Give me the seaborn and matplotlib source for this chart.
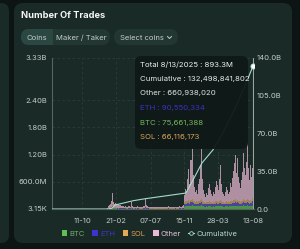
import numpy as np
import pandas as pd
import matplotlib
matplotlib.use("Agg")
import matplotlib.pyplot as plt
import seaborn as sns
from matplotlib.patches import FancyBboxPatch, Patch, Rectangle
from matplotlib.lines import Line2D
import matplotlib.transforms as mtransforms

# ---------------- data ----------------
axis_start = "2023-06-14"
bar_first, bar_last = "2024-01-19", "2025-08-13"   # 4-day bins

btc_m = [2,7,11,14,20,40,18,13,15,12, 11,13,10,11,8,9,7,7,8,6, 5,7,7,18,7,6,5,7,6,7,
         7,6,5,5,6,7,8,27,11,7, 7,6,5,6,5,5,5,4,5,5, 6,5,5,4,5,5,5,6,5,5,
         7,6,5,5,5,5,6,7,5,5, 6,7,7,6,8,11,
         55,60,60,65,70,62,75,80,65,60, 58,60,56,62,65,72,80,62,58,55, 52,56,55,60,62,58,55,52,56,55,
         60,64,62,58,64,72,62,56,55,52, 56,60,58,54,56,62,60,64,68,72, 76,66,74,64,60,58,62,66,78,68,
         64,70,82,68,62,70,64,75.66]
eth_m = [2,6,9,12,18,35,15,11,13,10, 9,11,8,10,7,8,6,6,7,5, 5,6,6,15,6,5,5,6,5,6,
         6,5,5,4,5,6,7,23,9,6, 6,5,5,5,4,5,4,4,5,4, 5,5,4,4,4,5,4,5,5,4,
         6,5,5,4,5,4,5,6,5,4, 5,6,6,5,7,9,
         55,58,58,60,65,58,70,75,60,56, 54,56,52,58,60,66,75,58,54,52, 48,52,50,55,58,54,50,48,52,50,
         56,60,58,54,60,68,58,52,50,48, 52,56,54,50,52,58,56,60,64,68, 72,62,70,60,56,54,58,62,74,64,
         60,66,78,64,58,66,60,90.55]
sol_m = [1,5,7,10,14,28,12,9,10,8, 7,9,6,8,6,6,5,4,5,4, 4,5,4,12,5,4,4,4,4,5,
         4,4,4,3,4,5,6,18,7,5, 4,4,4,4,3,4,3,3,4,3, 4,4,3,3,3,4,3,4,4,3,
         5,4,4,3,4,3,4,4,4,3, 4,5,4,4,6,7,
         40,52,52,55,60,50,64,70,55,50, 48,50,46,50,55,62,70,52,48,45, 42,46,45,50,52,48,45,42,46,45,
         50,54,52,48,54,60,52,46,45,42, 46,50,48,44,46,52,50,54,58,62, 66,56,64,56,52,50,54,58,66,58,
         54,60,70,58,52,60,56,66.12]
other_m = [15,42,63,84,128,247,105,77,92,70, 63,77,56,66,49,52,42,38,45,35, 31,42,38,105,42,35,31,38,35,42,
           38,35,31,28,35,42,49,162,63,42, 38,35,31,35,28,31,28,24,31,28, 35,31,28,24,28,31,28,35,31,28,
           42,35,31,28,31,28,35,38,31,28, 35,42,38,35,49,63,
           150,280,230,480,680,380,880,1120,580,310, 210,250,170,380,480,780,1130,480,250,170,
           120,200,160,290,380,260,170,140,220,170, 310,430,350,250,480,780,390,220,170,140,
           210,310,260,180,230,410,310,510,650,810, 970,610,920,530,410,310,470,630,1020,710,
           570,830,1220,710,470,780,530,660.94]

cum_dates = ["2023-06-14","2024-01-20","2024-02-04","2024-02-17","2024-04-29","2024-06-14",
             "2024-11-22","2024-12-20","2025-01-24","2025-03-08","2025-04-20","2025-06-01",
             "2025-07-24","2025-08-13"]
cum_b = [0, 0, 0.65, 3.7, 7.7, 9.5, 14.8, 26.9, 42.6, 54.7, 72, 92, 120.8, 132.5]

xtick_dates = ["2023-10-11","2024-02-21","2024-07-07","2024-11-15","2025-03-28","2025-08-13"]
xtick_labels = ["11-10","21-02","07-07","15-11","28-03","13-08"]
ly_ticks = [3150, 0.6e9, 1.2e9, 1.8e9, 2.4e9, 3.33e9]
ly_labels = ["3.15K","600.0M","1.20B","1.80B","2.40B","3.33B"]
ry_ticks = [0, 35e9, 70e9, 105e9, 140e9]
ry_labels = ["0.0","35.0B","70.0B","105.0B","140.0B"]

tooltip_lines = [("Total 8/13/2025 : 893.3M", "#eef1f0"),
                 ("Cumulative : 132,498,841,802", "#e6ebe9"),
                 ("Other : 660,938,020", "#dfe3e1"),
                 ("ETH : 90,550,334", "#3a33c4"),
                 ("BTC : 75,661,388", "#74b85e"),
                 ("SOL : 66,116,173", "#d9a35a")]

# ---------------- styling ----------------
W, H = 300, 249
BG = "#0c1513"
CARD = "#1a2a27"
PILL = "#223632"
PILL_ON = "#2b4741"
GRID = "#2c3e3a"
TXT = "#c3cdc9"
COL = {"BTC": "#5fbf55", "ETH": "#5a4fc8", "SOL": "#d8a66a", "Other": "#e9b9d3"}
CUM = "#a7dccd"
FS = 5.5

plt.rcParams["font.family"] = ["Inter", "DejaVu Sans"]

fig = plt.figure(figsize=(W / 100, H / 100), dpi=100)
fig.patch.set_facecolor(BG)
ID = mtransforms.IdentityTransform()


def rbox(x0, y0, x1, y1, r, color, z=-5, alpha=1.0):
    p = FancyBboxPatch((x0, H - y1), x1 - x0, y1 - y0,
                       boxstyle=f"round,pad=0,rounding_size={r}",
                       transform=ID, facecolor=color, edgecolor="none",
                       zorder=z, alpha=alpha)
    fig.add_artist(p)


def ftext(x, y, s, **kw):
    fig.text(x / W, 1 - y / H, s, **kw)


# cards
rbox(-20, 3, 9, 243, 8, CARD)
rbox(14, 3, 292, 243, 9, CARD)

ftext(21, 16, "Number Of Trades", color="#f4f6f5", fontsize=6.7, fontweight="bold", va="center")

# buttons
rbox(21, 29, 110, 45, 8, PILL, z=-4)
rbox(21, 29, 53, 45, 8, PILL_ON, z=-3)
fig.add_artist(Rectangle((42, H - 45), 11, 16, transform=ID, facecolor=PILL_ON,
                         edgecolor="none", zorder=-3))
rbox(114, 29, 178, 45, 8, PILL, z=-4)
ftext(37, 37.5, "Coins", color=TXT, fontsize=5.5, ha="center", va="center")
ftext(81.5, 37.5, "Maker / Taker", color=TXT, fontsize=5.5, ha="center", va="center")
ftext(120, 37.5, "Select coins", color=TXT, fontsize=5.5, ha="left", va="center")
fig.add_artist(Line2D([167.5, 169.5, 171.5], [H - 36.5, H - 38.5, H - 36.5], transform=ID,
                      color=TXT, lw=0.7, zorder=2))

# ---------------- axes ----------------
t0 = pd.Timestamp(axis_start)
bar_dates = pd.date_range(bar_first, bar_last, freq="4D")
bar_day = np.array((bar_dates - t0).days, dtype=float)

rows = []
for coin, arr in [("BTC", btc_m), ("ETH", eth_m), ("SOL", sol_m), ("Other", other_m)]:
    for d, v in zip(bar_day, arr):
        rows.append({"day": d, "coin": coin, "value": v * 1e6})
df = pd.DataFrame(rows)

ax = fig.add_axes([52 / W, 1 - 209 / H, (253.5 - 52) / W, 151 / H])
ax.set_facecolor("none")
sns.histplot(data=df, x="day", weights="value", hue="coin",
             hue_order=["Other", "SOL", "ETH", "BTC"], multiple="stack",
             binwidth=4, binrange=(bar_day[0] - 2, bar_day[-1] + 2),
             palette=COL, alpha=0.72, linewidth=0, edgecolor="none",
             legend=False, ax=ax, zorder=2)

day_max = (pd.Timestamp(bar_last) - t0).days
ax.set_xlim(0, day_max + 2)
ax.set_ylim(0, 3.33e9)
ax.set_yticks(ly_ticks)
ax.set_yticklabels(ly_labels)
xt = [(pd.Timestamp(d) - t0).days for d in xtick_dates]
ax.set_xticks(xt)
ax.set_xticklabels(xtick_labels)
ax.set_xlabel("")
ax.set_ylabel("")
ax.tick_params(axis="both", length=0, labelsize=FS, colors=TXT)
ax.tick_params(axis="y", pad=3.4)
ax.tick_params(axis="x", pad=6.5)
ax.set_axisbelow(True)
ax.grid(True, color=GRID, linestyle=(0, (3, 3)), linewidth=0.6)
for s in ["top", "right"]:
    ax.spines[s].set_visible(False)
ax.spines["left"].set_color("#56635f")
ax.spines["left"].set_linewidth(0.8)
ax.spines["bottom"].set_color("#56635f")
ax.spines["bottom"].set_linewidth(0.8)

ax2 = ax.twinx()
cum_day = [(pd.Timestamp(d) - t0).days for d in cum_dates]
cum_val = [v * 1e9 for v in cum_b]
sns.lineplot(x=cum_day, y=cum_val, ax=ax2, color=CUM, linewidth=0.8, zorder=3)
ax2.axvline(day_max, color="#9aa6a2", linewidth=0.8, zorder=1)
sns.scatterplot(x=[cum_day[-1]], y=[cum_val[-1]], ax=ax2, s=14, color="white",
                edgecolor=CUM, linewidth=0.6, zorder=5, legend=False)
ax2.set_ylim(0, 140e9)
ax2.set_xlim(0, day_max + 2)
ax2.set_yticks(ry_ticks)
ax2.set_yticklabels(ry_labels)
ax2.set_ylabel("")
ax2.tick_params(axis="y", length=0, labelsize=FS, colors=TXT, pad=2.5)
for s in ["top", "right", "left", "bottom"]:
    ax2.spines[s].set_visible(False)

# ---------------- tooltip ----------------
rbox(135, 56, 248, 149, 6, "#0f1917", z=10, alpha=0.95)
ty = [65, 78.5, 93, 107.5, 122.5, 136.5]
for (s, c), y in zip(tooltip_lines, ty):
    ftext(139.5, y, s, color=c, fontsize=5.6, va="center", zorder=11)

# ---------------- legend ----------------
handles = [Patch(facecolor=COL[k], edgecolor="none") for k in ["BTC", "ETH", "SOL", "Other"]]
handles[1] = Patch(facecolor="#3d33d2", edgecolor="none")
handles[2] = Patch(facecolor="#e2aa55", edgecolor="none")
handles.append(Line2D([], [], color=CUM, lw=0.8, marker="o", markersize=2.6,
                      markerfacecolor=CARD, markeredgecolor=CUM, markeredgewidth=0.6))
leg = fig.legend(handles, ["BTC", "ETH", "SOL", "Other", "Cumulative"], ncol=5,
                 loc="center", bbox_to_anchor=(149.5 / W, 1 - 233.5 / H), frameon=False,
                 fontsize=FS, handlelength=0.75, handleheight=0.75, handletextpad=0.3,
                 columnspacing=0.95, borderpad=0,
                 labelcolor=["#6fae6a", "#3d36c7", "#d9a050", "#e6c4d6", "#b8d8cf"])

fig.savefig("out.png", dpi=100, facecolor=BG)
